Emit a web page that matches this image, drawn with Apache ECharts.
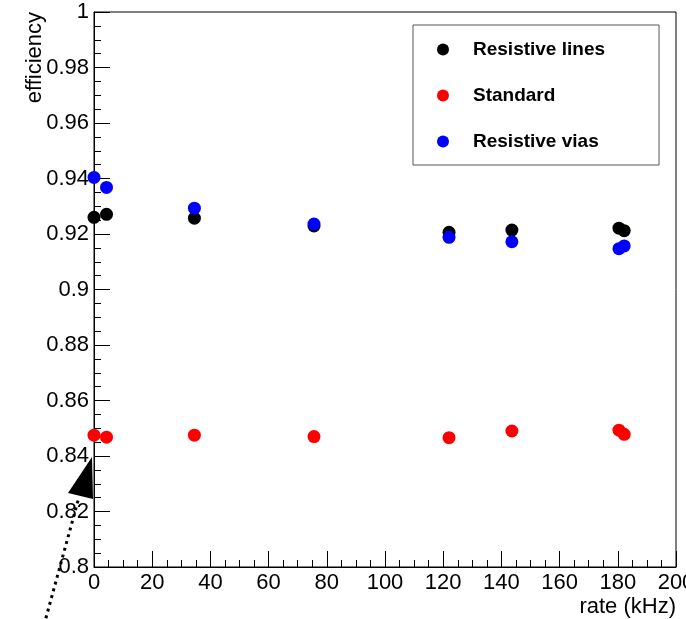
<!DOCTYPE html>
<html>
<head>
<meta charset="utf-8">
<script src="https://cdn.jsdelivr.net/npm/echarts@6/dist/echarts.min.js"></script>
<style>
  html, body { margin: 0; padding: 0; background: #fff; }
  #chart { width: 686px; height: 619px; }
</style>
</head>
<body>
<div id="chart"></div>
<script>
// Measured rate points (kHz), shared by all three detector configurations
const rates = [0, 4.3, 34.5, 75.6, 122, 143.6, 180.4, 182.2];

// Efficiency per configuration
const resistiveLines = [0.9260, 0.9271, 0.9257, 0.9229, 0.9206, 0.9214, 0.9221, 0.9212];
const standard       = [0.8475, 0.8468, 0.8475, 0.8470, 0.8466, 0.8490, 0.8493, 0.8478];
const resistiveVias  = [0.9404, 0.9368, 0.9293, 0.9236, 0.9188, 0.9172, 0.9147, 0.9157];

const seriesNames = ['Resistive lines', 'Standard', 'Resistive vias'];
const seriesColors = ['#000000', '#ff0000', '#0000ff'];

const FONT = '"Liberation Sans", Arial, Helvetica, sans-serif';

function pairs(ys) {
  return rates.map((x, i) => [x, ys[i]]);
}

const chart = echarts.init(document.getElementById('chart'), null, { renderer: 'canvas' });

const axisCommon = {
  axisLine: { show: true, onZero: false, lineStyle: { color: '#000', width: 1 } },
  axisTick: { show: true, inside: true, length: 16, lineStyle: { color: '#000', width: 1 } },
  minorTick: { show: true, splitNumber: 4, length: 7, lineStyle: { color: '#000', width: 1 } },
  splitLine: { show: false },
  minorSplitLine: { show: false },
  axisLabel: {
    color: '#000', fontFamily: FONT, fontSize: 22,
    showMinLabel: true, showMaxLabel: true, hideOverlap: false
  }
};

chart.setOption({
  animation: false,
  backgroundColor: '#fff',
  grid: {
    left: 94, right: 10, top: 12, bottom: 52,
    outerBoundsMode: 'none',
    containLabel: false,
    show: true, borderColor: '#000', borderWidth: 1, backgroundColor: 'transparent'
  },
  xAxis: Object.assign({}, axisCommon, {
    type: 'value', min: 0, max: 200, interval: 20,
    axisLabel: Object.assign({}, axisCommon.axisLabel, { margin: 5 }),
    name: 'rate (kHz)',
    nameLocation: 'end',
    nameGap: 0,
    nameTextStyle: {
      color: '#000', fontFamily: FONT, fontSize: 22,
      align: 'right', verticalAlign: 'top', padding: [29, 0, 0, 0]
    }
  }),
  yAxis: Object.assign({}, axisCommon, {
    type: 'value', min: 0.8, max: 1, interval: 0.02,
    axisLabel: Object.assign({}, axisCommon.axisLabel, { margin: 5 })
  }),
  legend: {
    orient: 'vertical',
    left: 413, top: 25,
    padding: [15, 54, 14, 24],
    itemGap: 27,
    itemWidth: 12, itemHeight: 12,
    icon: 'circle',
    borderColor: '#555', borderWidth: 1,
    backgroundColor: '#fff',
    textStyle: {
      color: '#000', fontFamily: FONT, fontWeight: 'bold', fontSize: 19,
      padding: [0, 0, 0, 19]
    },
    data: seriesNames
  },
  series: [resistiveLines, standard, resistiveVias].map((ys, i) => ({
    name: seriesNames[i],
    type: 'scatter',
    symbol: 'circle',
    symbolSize: 13,
    itemStyle: { color: seriesColors[i], opacity: 1 },
    emphasis: { disabled: true },
    data: pairs(ys),
    z: 2 + i
  })),
  graphic: [
    {
      type: 'text',
      x: 35, y: 12,
      rotation: Math.PI / 2,
      style: {
        text: 'efficiency', fill: '#000', font: '22px ' + FONT,
        align: 'right', verticalAlign: 'middle'
      },
      z: 10
    },
    {
      // dotted pointer line towards the low-efficiency region
      type: 'polyline',
      shape: { points: [[44, 625], [79, 497]] },
      style: { stroke: '#000', lineWidth: 3, lineDash: [3, 4], fill: null },
      z: 20
    },
    {
      type: 'polygon',
      shape: { points: [[92, 457], [68, 493], [93, 499]] },
      style: { fill: '#000' },
      z: 20
    }
  ]
});
</script>
</body>
</html>
